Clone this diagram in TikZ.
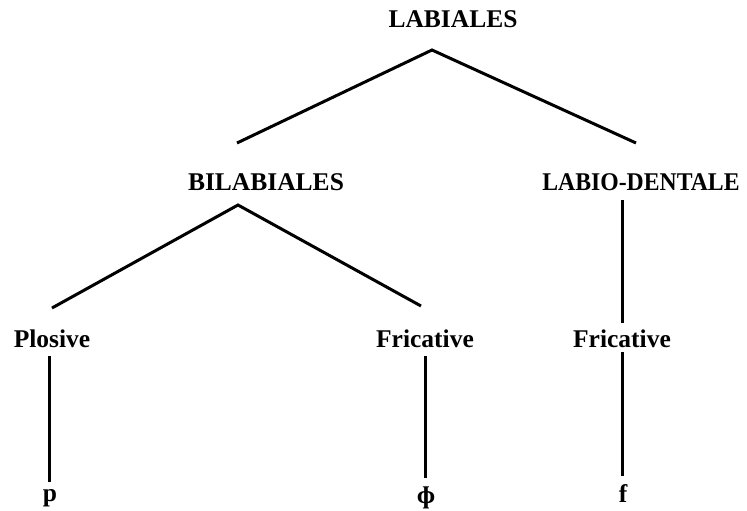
\documentclass[tikz,border=0pt]{standalone}
\usepackage{fontspec}
\setmainfont{Liberation Serif}
\begin{document}
\begin{tikzpicture}[x=1pt,y=-1pt,
  lbl/.style={font=\bfseries\fontsize{25.5}{25.5}\selectfont, inner sep=0pt, anchor=base},
  edge/.style={line width=3pt}]
\useasboundingbox (0,0) rectangle (747,511);
% labels
\node[lbl] (lab) at (453,28) {LABIALES};
\node[lbl] (bil) at (266,190) {BILABIALES};
\node[lbl, xscale=0.93] (lden) at (641,190) {LABIO-DENTALE};
\node[lbl] (plo) at (52,347) {Plosive};
\node[lbl] (fri1) at (425,347) {Fricative};
\node[lbl] (fri2) at (622,347) {Fricative};
\node[lbl] (p) at (50,501) {p};
\node[lbl] (phi) at (426,503) {ɸ};
\node[lbl] (f) at (623,502) {f};
% connector ends
\coordinate (labB) at (432,50);
\coordinate (bilT) at (237,143);
\coordinate (ldenT) at (636,143);
\coordinate (bilB) at (238,205);
\coordinate (ploT) at (52,308);
\coordinate (fri1T) at (421,306);
\coordinate (ldenB) at (622,200);
\coordinate (fri2T) at (622,323);
\coordinate (fri2B) at (622,352);
\coordinate (fT) at (622,476);
\coordinate (ploB) at (49,356);
\coordinate (pT) at (49,482);
\coordinate (fri1B) at (425,356);
\coordinate (phiT) at (425,478);
% connectors
\draw[edge] (bilT) -- (labB) -- (ldenT);
\draw[edge] (ploT) -- (bilB) -- (fri1T);
\draw[edge] (ldenB) -- (fri2T);
\draw[edge] (fri2B) -- (fT);
\draw[edge] (ploB) -- (pT);
\draw[edge] (fri1B) -- (phiT);
\end{tikzpicture}
\end{document}
